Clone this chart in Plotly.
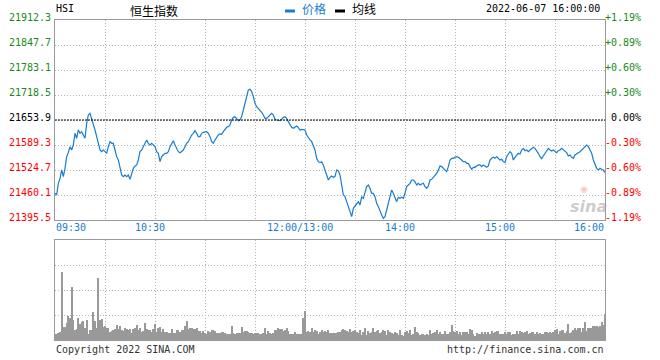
import plotly.graph_objects as go

# ---------------- data ----------------
title_code = "HSI"
title_name = "恒生指数"
timestamp = "2022-06-07 16:00:00"
prev_close = 21653.9

# one value per trading minute from 09:30 (lunch break removed)
price = [
    21464.5, 21460.2, 21490.3, 21503.2, 21524.8, 21507.5, 21529.1, 21559.2, 21570.0, 21585.0,
    21576.4, 21589.3, 21619.5, 21606.6, 21628.1, 21619.5, 21623.8, 21615.0, 21606.6, 21645.3,
    21666.9, 21671.2, 21658.2, 21641.0, 21628.1, 21610.9, 21593.7, 21576.4, 21572.1, 21576.4,
    21572.1, 21567.8, 21585.0, 21597.9, 21593.7, 21593.7, 21576.4, 21559.2, 21550.6, 21533.4,
    21511.8, 21507.5, 21511.8, 21507.5, 21511.8, 21500.6, 21516.1, 21529.1, 21535.1, 21537.7,
    21550.6, 21572.1, 21576.4, 21585.0, 21597.9, 21602.3, 21593.7, 21589.3, 21593.7, 21589.3,
    21585.0, 21572.1, 21567.8, 21546.3, 21559.2, 21563.5, 21567.8, 21567.8, 21572.1, 21585.0,
    21593.7, 21600.5, 21589.3, 21580.7, 21572.1, 21569.5, 21572.1, 21576.4, 21585.0, 21593.7,
    21597.9, 21606.6, 21615.2, 21619.5, 21626.4, 21619.5, 21610.9, 21610.9, 21619.5, 21622.1,
    21623.8, 21623.8, 21619.5, 21610.9, 21597.9, 21593.7, 21602.3, 21610.9, 21615.2, 21617.8,
    21616.9, 21623.8, 21629.8, 21635.0, 21636.7, 21641.0, 21653.9, 21660.8, 21662.6, 21658.2,
    21652.2, 21653.9, 21662.6, 21679.8, 21697.0, 21714.2, 21731.5, 21733.2, 21727.2, 21714.2,
    21697.0, 21688.4, 21684.1, 21679.8, 21673.8, 21666.9, 21658.2, 21658.2, 21662.6, 21666.9,
    21671.2, 21666.9, 21655.7, 21653.9, 21653.9, 21652.2, 21655.7, 21660.8, 21662.6, 21658.2,
    21649.6, 21641.0, 21635.0, 21632.4, 21636.7, 21638.4, 21634.1, 21628.1, 21629.8, 21628.1,
    21628.1, 21615.2, 21606.6, 21602.3, 21597.9, 21589.3, 21576.4, 21554.9, 21546.3, 21543.7,
    21546.3, 21537.7, 21524.8, 21507.5, 21498.9, 21505.8, 21509.3, 21505.8, 21507.5, 21524.8,
    21523.0, 21511.8, 21481.7, 21460.2, 21455.8, 21442.9, 21430.0, 21417.1, 21404.2, 21425.7,
    21431.7, 21438.6, 21442.9, 21434.3, 21455.8, 21451.5, 21464.5, 21481.7, 21486.0, 21477.4,
    21464.5, 21464.5, 21455.8, 21438.6, 21430.0, 21417.1, 21408.5, 21399.9, 21404.2, 21421.4,
    21438.6, 21451.5, 21473.1, 21464.5, 21451.5, 21442.9, 21454.1, 21451.5, 21454.1, 21451.5,
    21464.5, 21481.7, 21486.0, 21490.3, 21498.9, 21498.9, 21494.6, 21486.0, 21490.3, 21486.0,
    21488.6, 21490.3, 21481.7, 21477.4, 21483.4, 21498.9, 21500.6, 21504.9, 21511.8, 21516.1,
    21524.8, 21535.1, 21533.4, 21529.1, 21523.0, 21520.4, 21533.4, 21550.6, 21554.9, 21554.9,
    21557.5, 21559.2, 21557.5, 21554.9, 21550.6, 21546.3, 21546.3, 21542.0, 21542.0, 21533.4,
    21526.5, 21531.6, 21531.6, 21535.1, 21537.7, 21537.7, 21533.4, 21537.7, 21533.4, 21531.6,
    21535.1, 21550.6, 21554.9, 21557.5, 21554.9, 21559.2, 21554.9, 21550.6, 21552.3, 21546.3,
    21543.7, 21559.2, 21566.1, 21572.1, 21567.8, 21550.6, 21557.5, 21563.5, 21567.8, 21566.1,
    21576.4, 21580.7, 21574.7, 21576.4, 21572.1, 21576.4, 21580.7, 21583.3, 21580.7, 21574.7,
    21567.8, 21559.2, 21554.0, 21560.9, 21567.8, 21576.4, 21580.7, 21576.4, 21573.8, 21576.4,
    21572.1, 21569.5, 21574.7, 21576.4, 21580.7, 21576.4, 21572.1, 21569.5, 21560.9, 21563.5,
    21557.5, 21554.9, 21563.5, 21567.8, 21569.5, 21572.1, 21576.4, 21580.7, 21585.0, 21589.3,
    21585.0, 21576.4, 21567.8, 21550.6, 21537.7, 21529.1, 21524.8, 21529.1, 21526.5, 21524.8,
    21517.9,
]

# relative volume per minute
volume = [
    6, 6, 7, 8, 68, 13, 13, 17, 24, 22,
    53, 20, 10, 11, 22, 16, 18, 19, 12, 20,
    6, 10, 10, 28, 19, 12, 62, 20, 21, 13,
    14, 12, 12, 8, 9, 10, 11, 15, 11, 14,
    10, 9, 12, 11, 10, 11, 7, 11, 12, 15,
    10, 12, 8, 9, 17, 11, 10, 10, 8, 11,
    16, 8, 12, 13, 8, 11, 8, 8, 7, 7,
    11, 7, 7, 10, 10, 8, 10, 10, 14, 19,
    11, 12, 12, 11, 11, 12, 9, 9, 7, 9,
    7, 6, 9, 8, 10, 10, 9, 7, 7, 7,
    8, 8, 7, 6, 6, 6, 14, 7, 6, 7,
    7, 7, 13, 8, 9, 9, 8, 7, 7, 6,
    7, 7, 7, 6, 6, 7, 12, 6, 9, 7,
    6, 7, 10, 10, 12, 11, 11, 9, 10, 12,
    9, 6, 6, 6, 8, 6, 6, 6, 6, 22,
    29, 8, 9, 8, 12, 8, 10, 9, 6, 8,
    10, 8, 9, 8, 10,
    7, 7, 7, 7, 7, 8, 8, 10, 11, 10,
    9, 8, 11, 8, 9, 10, 8, 7, 10, 5,
    8, 12, 5, 9, 7, 8, 12, 8, 9, 10,
    7, 8, 10, 9, 5, 10, 8, 7, 6, 8,
    7, 5, 10, 5, 4, 8, 9, 7, 10, 5,
    6, 13, 8, 7, 5, 6, 6, 5, 6, 5,
    10, 6, 7, 8, 10, 6, 8, 6, 6, 9,
    6, 6, 8, 15, 9, 8, 9, 6, 8, 5,
    8, 8, 8, 6, 11, 10, 6, 4, 7, 6,
    6, 8, 6, 8, 6, 8, 6, 9, 7, 8,
    9, 9, 6, 6, 6, 8, 6, 8, 8, 5,
    6, 6, 9, 6, 9, 8, 7, 8, 9, 6,
    7, 8, 8, 6, 8, 6, 7, 6, 6, 8,
    8, 7, 8, 7, 8, 10, 11, 6, 9, 10,
    10, 7, 9, 16, 7, 8, 10, 12, 10, 12,
    12, 8, 12, 18, 9, 12, 12, 12, 14, 14,
    14, 13, 14, 18, 15, 26,
]

price_ticks = [21395.5, 21460.1, 21524.7, 21589.3, 21653.9, 21718.5, 21783.1, 21847.7, 21912.3]
price_tick_labels = ["21395.5", "21460.1", "21524.7", "21589.3", "21653.9",
                     "21718.5", "21783.1", "21847.7", "21912.3"]
pct_tick_labels = ["-1.19%", "-0.89%", "-0.60%", "-0.30%", "0.00%",
                   "+0.30%", "+0.60%", "+0.89%", "+1.19%"]
time_tick_pos = [0, 60, 150, 210, 270, 330]
time_tick_labels = ["09:30", "10:30", "12:00/13:00", "14:00", "15:00", "16:00"]
grid_minutes = [30, 60, 90, 120, 150, 180, 210, 240, 270, 300]
legend_labels = ["价格", "均线"]
copyright_text = "Copyright 2022 SINA.COM"
url_text = "http://finance.sina.com.cn"

# ---------------- style ----------------
BLUE = "#1a7ccf"
GREEN = "#1a8a1a"
RED = "#ff0000"
GRID = "#b4b4b4"
FRAME = "#9a9a9a"
MONO = "DejaVu Sans Mono"
CJK = "Noto Sans CJK SC"

W, H = 660, 360
ML, MR, MT, MB = 55, 55, 20, 20
PW, PH = W - ML - MR, H - MT - MB


def px(xp):
    return (xp - ML) / PW


def py(yp):
    return (H - MB - yp) / PH


minutes_p = list(range(len(price)))
minutes_v = list(range(len(volume)))
xmax = 330

fig = go.Figure()
fig.add_trace(go.Bar(x=minutes_v, y=volume, width=0.62,
                     marker=dict(color="#999999", line=dict(width=0)),
                     xaxis="x2", yaxis="y2", hoverinfo="skip"))
fig.add_trace(go.Scatter(x=minutes_p, y=price, mode="lines",
                         line=dict(color=BLUE, width=1.2),
                         xaxis="x", yaxis="y", hoverinfo="skip"))

axis_common = dict(showline=True, linecolor=FRAME, linewidth=1, mirror=True,
                   ticks="", showticklabels=False, zeroline=False,
                   showgrid=True, gridcolor=GRID, gridwidth=1, griddash="1px,2px")

fig.update_layout(
    width=W, height=H,
    margin=dict(l=ML, r=MR, t=MT, b=MB, pad=0),
    paper_bgcolor="white", plot_bgcolor="white",
    showlegend=False,
    bargap=0,
    xaxis=dict(domain=[0, 1], range=[0, xmax], anchor="y",
               tickmode="array", tickvals=grid_minutes, **axis_common),
    yaxis=dict(domain=[py(220), 1], range=[price_ticks[0], price_ticks[-1]], anchor="x",
               tickmode="array", tickvals=price_ticks, **axis_common),
    xaxis2=dict(domain=[0, 1], range=[0, xmax], anchor="y2",
                tickmode="array", tickvals=grid_minutes, **axis_common),
    yaxis2=dict(domain=[0, py(240)], range=[0, 100], anchor="x2",
                tickmode="array", tickvals=[25, 50, 75], **axis_common),
)

# previous close dashed line
fig.add_shape(type="line", xref="x", yref="y", x0=0, x1=xmax, y0=prev_close, y1=prev_close,
              line=dict(color="black", width=1, dash="2px,1px"))

ann = []
# left price labels & right percentage labels
for v, lab, pl in zip(price_ticks, price_tick_labels, pct_tick_labels):
    if v > prev_close + 1e-6:
        col = GREEN
    elif v < prev_close - 1e-6:
        col = RED
    else:
        col = "black"
    ann.append(dict(x=0, xref="paper", y=v, yref="y", text=lab, showarrow=False,
                    xanchor="right", yanchor="middle", xshift=-2, yshift=3,
                    font=dict(family=MONO, size=10, color=col)))
    ann.append(dict(x=1, xref="paper", y=v, yref="y", text=pl, showarrow=False,
                    xanchor="right", yanchor="middle", xshift=38, yshift=3,
                    font=dict(family=MONO, size=10, color=col)))

# time labels
for i, (pos, lab) in enumerate(zip(time_tick_pos, time_tick_labels)):
    if i == 0:
        xa, xs = "left", -1
    elif i == len(time_tick_pos) - 1:
        xa, xs = "right", 1
    else:
        xa, xs = "center", -5
    ann.append(dict(x=pos, xref="x", y=py(227), yref="paper", text=lab, showarrow=False,
                    xanchor=xa, yanchor="middle", xshift=xs,
                    font=dict(family=MONO, size=10, color=BLUE)))

# header
ann.append(dict(x=px(54), xref="paper", y=py(9), yref="paper", text=title_code, showarrow=False,
                xanchor="left", yanchor="middle", font=dict(family=MONO, size=10, color="black")))
ann.append(dict(x=px(154), xref="paper", y=py(10), yref="paper", text=title_name, showarrow=False,
                xanchor="center", yanchor="middle", font=dict(family=CJK, size=12, color="black")))
ann.append(dict(x=px(300), xref="paper", y=py(9), yref="paper", text=legend_labels[0], showarrow=False,
                xanchor="left", yanchor="middle", font=dict(family=CJK, size=12, color=BLUE)))
ann.append(dict(x=px(350), xref="paper", y=py(9), yref="paper", text=legend_labels[1], showarrow=False,
                xanchor="left", yanchor="middle", font=dict(family=CJK, size=12, color="black")))
ann.append(dict(x=px(602), xref="paper", y=py(9), yref="paper", text=timestamp, showarrow=False,
                xanchor="right", yanchor="middle", font=dict(family=MONO, size=10, color="black")))

# footer
ann.append(dict(x=px(54), xref="paper", y=py(349), yref="paper", text=copyright_text, showarrow=False,
                xanchor="left", yanchor="middle", font=dict(family=MONO, size=10, color="#333333")))
ann.append(dict(x=px(606), xref="paper", y=py(349), yref="paper", text=url_text, showarrow=False,
                xanchor="right", yanchor="middle", font=dict(family=MONO, size=10, color="#333333")))

# sina watermark
ann.append(dict(x=px(588), xref="paper", y=py(206), yref="paper", text="<b><i>sina</i></b>",
                showarrow=False, xanchor="center", yanchor="middle",
                font=dict(family="DejaVu Sans", size=16, color="rgba(160,160,160,0.55)")))
ann.append(dict(x=px(584), xref="paper", y=py(189), yref="paper", text="◉",
                showarrow=False, xanchor="center", yanchor="middle",
                font=dict(family="DejaVu Sans", size=9, color="rgba(235,120,120,0.45)")))

fig.update_layout(annotations=ann)

# legend swatches
fig.add_shape(type="rect", xref="paper", yref="paper", x0=px(285), x1=px(295), y0=py(12.5), y1=py(9.5),
              fillcolor=BLUE, line=dict(width=0))
fig.add_shape(type="rect", xref="paper", yref="paper", x0=px(335), x1=px(345), y0=py(12.5), y1=py(9.5),
              fillcolor="black", line=dict(width=0))

fig.write_html("out.html", config={"displayModeBar": False},
               post_script="document.body.style.margin='0px';document.body.style.padding='0px';")
